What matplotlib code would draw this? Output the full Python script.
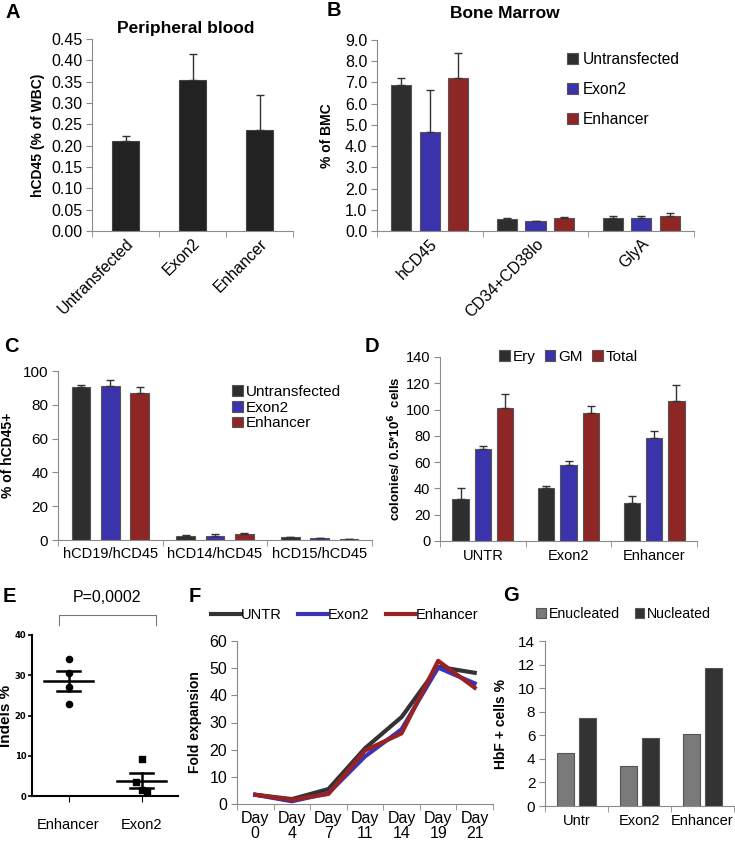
import matplotlib
matplotlib.use('Agg')
import matplotlib.pyplot as plt
import numpy as np

plt.rcParams['font.family'] = ['Liberation Sans', 'DejaVu Sans']

# A - peripheral blood
pb_groups = ['Untransfected', 'Exon2', 'Enhancer']
pb_vals = [0.21, 0.355, 0.237]
pb_err = [0.012, 0.06, 0.081]

# B - bone marrow
bm_groups = ['hCD45', 'CD34+CD38lo', 'GlyA']
bm_untr = [6.9, 0.57, 0.62]
bm_untr_err = [0.3, 0.02, 0.08]
bm_exon2 = [4.65, 0.45, 0.60]
bm_exon2_err = [2.0, 0.02, 0.13]
bm_enh = [7.2, 0.63, 0.73]
bm_enh_err = [1.2, 0.03, 0.10]

# C - lineages
lin_groups = ['hCD19/hCD45', 'hCD14/hCD45', 'hCD15/hCD45']
lin_untr = [90.5, 2.5, 1.5]
lin_untr_err = [1.0, 0.3, 0.2]
lin_exon2 = [91.0, 2.3, 1.1]
lin_exon2_err = [3.5, 1.2, 0.2]
lin_enh = [87.0, 3.3, 0.5]
lin_enh_err = [3.5, 1.0, 0.2]

# D - colonies
cfu_groups = ['UNTR', 'Exon2', 'Enhancer']
cfu_ery = [32, 40, 29]
cfu_ery_err = [8, 2, 5.5]
cfu_gm = [70, 57.5, 78]
cfu_gm_err = [2, 3.5, 6]
cfu_total = [101, 97.5, 106.5]
cfu_total_err = [11, 5.5, 12]

# E - indels
indel_groups = ['Enhancer', 'Exon2']
indel_enh = [34.0, 30.6, 27.0, 22.8]
indel_exon2 = [9.3, 3.5, 1.4, 1.2]
indel_exon2_jitter = [0.0, -0.07, 0.0, 0.08]

# F - expansion
days = ['Day\n0', 'Day\n4', 'Day\n7', 'Day\n11', 'Day\n14', 'Day\n19', 'Day\n21']
exp_untr = [3.4, 1.8, 5.5, 20.5, 32.0, 50.5, 48.3]
exp_exon2 = [3.4, 1.0, 4.0, 17.5, 27.5, 50.2, 44.4]
exp_enh = [3.4, 1.5, 3.7, 19.7, 26.0, 52.7, 42.8]

# G - HbF
hbf_groups = ['Untr', 'Exon2', 'Enhancer']
hbf_enucl = [4.5, 3.4, 6.1]
hbf_nucl = [7.5, 5.8, 11.7]

DARK = '#2e2e2e'
BLUE = '#3b33ab'
RED = '#8e2626'
AXC = '#8a8a8a'

W, H = 735, 847
fig = plt.figure(figsize=(W / 100, H / 100), dpi=100)


def px_axes(x0, y0, x1, y1):
    return fig.add_axes([x0 / W, 1 - y1 / H, (x1 - x0) / W, (y1 - y0) / H])


def style(ax, n, fs=11):
    for s in ['top', 'right']:
        ax.spines[s].set_visible(False)
    for s in ['left', 'bottom']:
        ax.spines[s].set_color(AXC)
    ax.set_xlim(-0.5, n - 0.5)
    ax.set_xticks(np.arange(n))
    ax.set_xticks(np.arange(n + 1) - 0.5, minor=True)
    ax.tick_params(axis='x', which='major', length=0, labelsize=fs)
    ax.tick_params(axis='x', which='minor', length=4, color=AXC)
    ax.tick_params(axis='y', length=4, color=AXC, labelsize=fs, pad=3)


def ylab(ax, text, xpos, fs=9.5):
    ax.set_ylabel(text, fontsize=fs, fontweight='bold')
    ax.yaxis.set_label_coords(xpos, 0.5)


def grouped(ax, series, errs, colors, labels, offset, width):
    x = np.arange(len(series[0]))
    for i in range(len(series)):
        e = np.array(errs[i]) if errs is not None else None
        ax.bar(x + (i - (len(series) - 1) / 2) * offset, series[i], width,
               color=colors[i], edgecolor='#555555', linewidth=0.8, label=labels[i],
               yerr=None if e is None else [np.zeros(len(e)), e],
               error_kw=dict(ecolor='#333333', elinewidth=1, capsize=3, capthick=1))


# ---- A
ax = px_axes(92, 39, 293, 231)
style(ax, 3, 11.5)
ax.bar(np.arange(3), pb_vals, 0.4, color='#222222', edgecolor='#444444', linewidth=0.8,
       yerr=[np.zeros(3), pb_err],
       error_kw=dict(ecolor='#333333', elinewidth=1, capsize=3, capthick=1))
ax.set_ylim(0, 0.45)
ax.set_yticks(np.arange(0, 0.451, 0.05))
ax.set_yticklabels(['%.2f' % v for v in np.arange(0, 0.451, 0.05)])
ax.set_xticklabels(pb_groups, rotation=45, ha='right', rotation_mode='anchor')
ylab(ax, 'hCD45 (% of WBC)', -0.235, 10)
fig.text(186 / W, 1 - 29 / H, 'Peripheral blood', fontsize=12.5, fontweight='bold',
         ha='center', va='center')

# ---- B
ax = px_axes(377, 40, 694, 231)
style(ax, 3, 11.5)
grouped(ax, [bm_untr, bm_exon2, bm_enh], [bm_untr_err, bm_exon2_err, bm_enh_err],
        [DARK, BLUE, RED], ['Untransfected', 'Exon2', 'Enhancer'], 0.27, 0.19)
ax.set_ylim(0, 9)
ax.set_yticks(np.arange(0, 9.1, 1))
ax.set_yticklabels(['%.1f' % v for v in np.arange(0, 9.1, 1)])
ax.set_xticklabels(bm_groups, rotation=45, ha='right', rotation_mode='anchor')
ylab(ax, '% of BMC', -0.136, 10)
fig.text(505 / W, 1 - 14 / H, 'Bone Marrow', fontsize=12.5, fontweight='bold',
         ha='center', va='center')
ax.legend(loc='upper left', bbox_to_anchor=(0.555, 1.01), frameon=False, fontsize=11.2,
          handlelength=0.7, handleheight=0.7, handletextpad=0.3, labelspacing=0.95)

# ---- C
ax = px_axes(58, 371, 372, 540)
style(ax, 3, 11)
grouped(ax, [lin_untr, lin_exon2, lin_enh], [lin_untr_err, lin_exon2_err, lin_enh_err],
        [DARK, BLUE, RED], ['Untransfected', 'Exon2', 'Enhancer'], 0.28, 0.18)
ax.set_ylim(0, 100)
ax.set_yticks(np.arange(0, 101, 20))
ax.set_xticklabels(lin_groups, fontsize=10.5)
ax.tick_params(axis='x', which='major', pad=5)
ylab(ax, '% of hCD45+', -0.137, 10)
ax.legend(loc='upper left', bbox_to_anchor=(0.51, 1.0), frameon=False, fontsize=11,
          handlelength=0.7, handleheight=0.7, handletextpad=0.2, labelspacing=0.12)

# ---- D
ax = px_axes(440, 357, 697, 541)
style(ax, 3, 10.5)
grouped(ax, [cfu_ery, cfu_gm, cfu_total], [cfu_ery_err, cfu_gm_err, cfu_total_err],
        [DARK, BLUE, RED], ['Ery', 'GM', 'Total'], 0.26, 0.19)
ax.set_ylim(0, 140)
ax.set_yticks(np.arange(0, 141, 20))
ax.set_xticklabels(cfu_groups)
ax.tick_params(axis='x', which='major', pad=6)
ylab(ax, r'colonies/ 0.5*10$^\mathbf{6}$  cells', -0.144, 9.5)
ax.legend(loc='center', bbox_to_anchor=(0.5, 1.0), ncol=3, frameon=False, fontsize=11,
          handlelength=0.7, handleheight=0.7, handletextpad=0.2, columnspacing=0.6)

# ---- E
ax = px_axes(32, 635, 178, 796)
for s in ['top', 'right']:
    ax.spines[s].set_visible(False)
for s in ['left', 'bottom']:
    ax.spines[s].set_linewidth(1.5)
ax.scatter(np.zeros(len(indel_enh)), indel_enh, marker='o', s=20, color='black', zorder=3)
ax.scatter(1 + np.array(indel_exon2_jitter), indel_exon2, marker='s', s=16, color='black', zorder=3)
for i, pts in enumerate([indel_enh, indel_exon2]):
    m = np.mean(pts)
    sem = np.std(pts, ddof=1) / np.sqrt(len(pts))
    ax.plot([i - 0.33, i + 0.33], [m, m], color='black', lw=1.8)
    ax.plot([i - 0.16, i + 0.16], [m + sem, m + sem], color='black', lw=1.8)
    ax.plot([i - 0.16, i + 0.16], [m - sem, m - sem], color='black', lw=1.8)
    ax.plot([i, i], [m - sem, m + sem], color='black', lw=1.8)
ax.set_xlim(-0.5, 1.5)
ax.set_ylim(0, 40)
ax.set_yticks(np.arange(0, 41, 10))
ax.set_xticks([0, 1])
ax.set_xticklabels(indel_groups, fontsize=10.5)
ax.tick_params(axis='x', length=4, pad=12)
ax.tick_params(axis='y', length=3, width=1.2, pad=1)
for t in ax.get_yticklabels():
    t.set_family(['Liberation Sans Narrow', 'DejaVu Sans'])
    t.set_fontsize(6)
    t.set_fontweight('bold')
ylab(ax, 'Indels %', -0.13, 11)
ax.plot([-0.13, -0.13, 1.2, 1.2], [42.5, 45, 45, 42.5], color='#777777', lw=0.8, clip_on=False)
ax.text(0.53, 47.5, 'P=0,0002', ha='center', va='bottom', fontsize=11.5)

# ---- F
ax = px_axes(237, 641, 493, 804)
style(ax, 7, 11.5)
x = np.arange(len(days))
ax.plot(x, exp_untr, color='#333333', lw=3, label='UNTR')
ax.plot(x, exp_exon2, color='#3b33b5', lw=3, label='Exon2')
ax.plot(x, exp_enh, color='#9a2222', lw=3, label='Enhancer')
ax.set_ylim(0, 60)
ax.set_yticks(np.arange(0, 61, 10))
ax.set_xticklabels(days, linespacing=1.0)
ax.tick_params(axis='x', which='major', pad=5)
ylab(ax, 'Fold expansion', -0.137, 10)
ax.legend(loc='lower left', bbox_to_anchor=(-0.1, 1.115), ncol=3, frameon=False, fontsize=10.5,
          handlelength=2.0, handletextpad=0.05, columnspacing=1.1, borderpad=0, borderaxespad=0)

# ---- G
ax = px_axes(545, 641, 734, 806)
style(ax, 3, 11)
grouped(ax, [hbf_enucl, hbf_nucl], None, ['#7a7a7a', '#333333'], ['Enucleated', 'Nucleated'], 0.36, 0.27)
ax.set_ylim(0, 14)
ax.set_yticks(np.arange(0, 15, 2))
ax.set_xticklabels(hbf_groups, fontsize=10.5)
ax.tick_params(axis='x', which='major', pad=6)
ylab(ax, 'HbF + cells %', -0.196, 10)
ax.legend(loc='lower left', bbox_to_anchor=(-0.045, 1.12), ncol=2, frameon=False, fontsize=10.2,
          handlelength=0.7, handleheight=0.7, handletextpad=0.2, columnspacing=1.0,
          borderpad=0, borderaxespad=0)

# panel letters
for letter, px, py in [('A', 5, 12), ('B', 327, 10), ('C', 4, 346), ('D', 365, 346),
                       ('E', 3, 596), ('F', 189, 596), ('G', 503, 595)]:
    fig.text(px / W, 1 - py / H, letter, fontsize=14.5, fontweight='bold', va='center', ha='left')

fig.savefig('out.png', dpi=100)
